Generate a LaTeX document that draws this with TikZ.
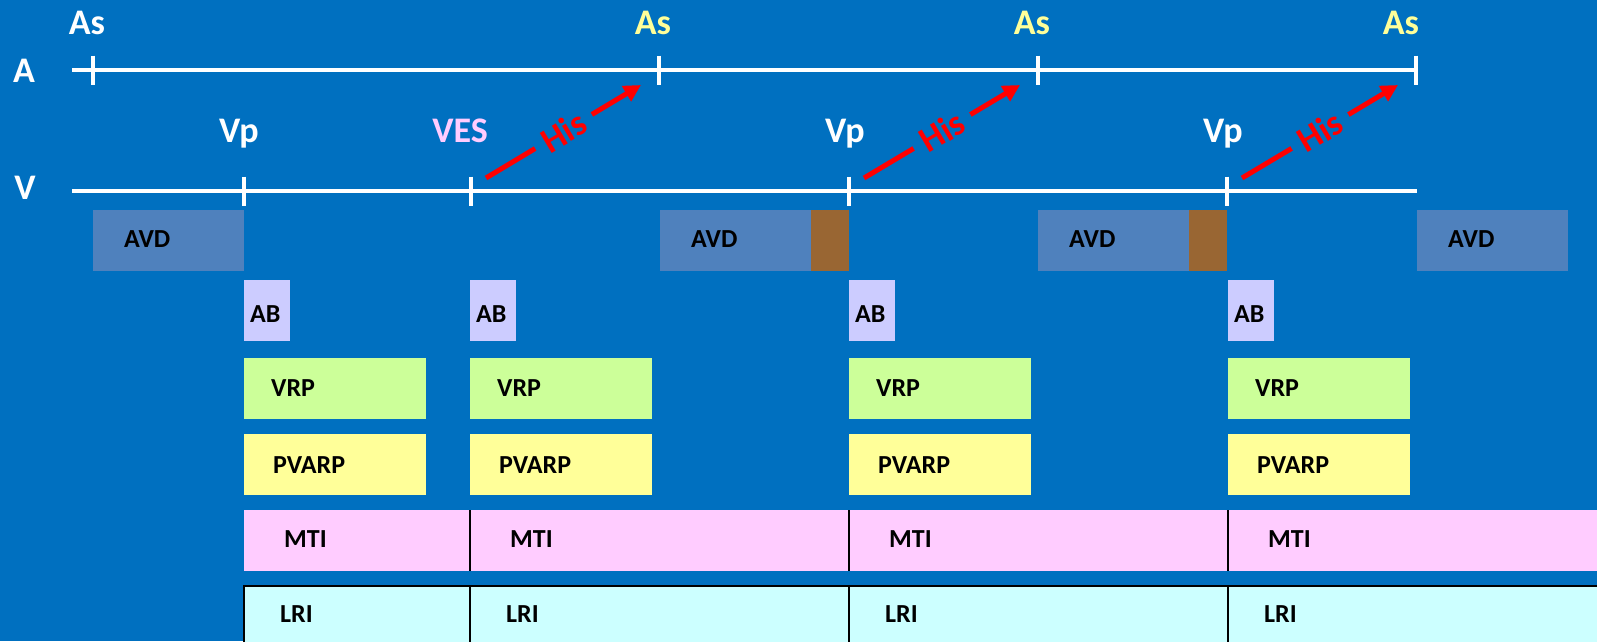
\documentclass[tikz,border=0pt]{standalone}
\usepackage{fontspec}
\setmainfont{Carlito}
\usetikzlibrary{arrows.meta}
\definecolor{bg}{HTML}{0070C0}
\definecolor{avdc}{HTML}{4F81BD}
\definecolor{brownc}{HTML}{996633}
\definecolor{abc}{HTML}{CCCCFF}
\definecolor{vrpc}{HTML}{CCFF99}
\definecolor{pvarpc}{HTML}{FFFF99}
\definecolor{mtic}{HTML}{FFCCFF}
\definecolor{lric}{HTML}{CCFFFF}
\definecolor{asyellow}{HTML}{FFFF99}
\definecolor{vespink}{HTML}{FFCCFF}
\begin{document}
\begin{tikzpicture}[x=1pt,y=-1pt,
  box/.style={anchor=north west, inner sep=0pt, outer sep=0pt, draw=none, minimum height=61pt},
  lbl/.style={font=\fontsize{26}{28}\selectfont\bfseries, text=black, inner sep=0pt, anchor=west},
  big/.style={font=\fontsize{36}{40}\selectfont\bfseries, inner sep=0pt, anchor=base},
  axisline/.style={white, line width=3.5pt},
  tickmark/.style={white, line width=3.5pt},
  his/.style={red, line width=5pt, -{Triangle[length=17pt,width=17pt]}},
  hislbl/.style={sloped, midway, fill=bg, text=red, font=\fontsize{36}{40}\selectfont\bfseries, inner xsep=10pt, inner ysep=2pt, anchor=center},
  divider/.style={black, line width=1.5pt},
  lribox/.style={box, fill=lric, draw=black, line width=2.5pt, minimum height=70pt},
]
\fill[bg] (0,0) rectangle (1597,641);
\useasboundingbox (0,0) rectangle (1597,641);
\clip (0,0) rectangle (1597,641);

% axes
\coordinate (a0) at (72,70);
\coordinate (a1) at (93,70);
\coordinate (a2) at (659,70);
\coordinate (a3) at (1038,70);
\coordinate (a4) at (1416,70);
\coordinate (v0) at (72,191);
\coordinate (v1) at (244,191);
\coordinate (v2) at (471,191);
\coordinate (v3) at (849,191);
\coordinate (v4) at (1227,191);
\coordinate (v5) at (1417,191);
\draw[axisline] (a0) -- (a4);
\draw[axisline] (v0) -- (v5);
\foreach \c in {a1,a2,a3,a4}{
  \draw[tickmark] ([yshift=14.5pt]\c) -- ([yshift=-15pt]\c);
}
\foreach \c in {v1,v2,v3,v4}{
  \draw[tickmark] ([yshift=14.5pt]\c) -- ([yshift=-15pt]\c);
}

% big labels
\node[big, white] (la) at (24,82) {A};
\node[big, white] (lv) at (25,199) {V};
\node[big, white] (as1) at (87,34) {As};
\node[big, asyellow] (as2) at (653,34) {As};
\node[big, asyellow] (as3) at (1032,34) {As};
\node[big, asyellow] (as4) at (1401,34) {As};
\node[big, white] (vp1) at (239,142) {Vp};
\node[big, vespink] (ves) at (460,142) {VES};
\node[big, white] (vp2) at (845,142) {Vp};
\node[big, white] (vp3) at (1223,142) {Vp};

% His arrows
\draw[his] ([shift={(15,-13)}]v2) -- node[hislbl] (his1) {His} ([shift={(-18,15)}]a2);
\draw[his] ([shift={(15,-13)}]v3) -- node[hislbl] (his2) {His} ([shift={(-18,15)}]a3);
\draw[his] ([shift={(15,-13)}]v4) -- node[hislbl] (his3) {His} ([shift={(-18,15)}]a4);

% AVD
\node[box, fill=avdc, minimum width=151pt] (avd1) at (93,210) {};
\node[box, fill=avdc, minimum width=151pt] (avd2) at (660,210) {};
\node[box, fill=brownc, minimum width=38pt] (br2) at (811,210) {};
\node[box, fill=avdc, minimum width=151pt] (avd3) at (1038,210) {};
\node[box, fill=brownc, minimum width=38pt] (br3) at (1189,210) {};
\node[box, fill=avdc, minimum width=151pt] (avd4) at (1417,210) {};
\foreach \n in {avd1,avd2,avd3,avd4}{
  \node[lbl] at ([xshift=31pt,yshift=1pt]\n.west) {AVD};
}

% columns
\foreach \i/\x in {1/244,2/470,3/849,4/1228}{
  \node[box, fill=abc, minimum width=46pt] (ab\i) at (\x,280) {};
  \node[lbl] at ([xshift=6pt,yshift=-4pt]ab\i.west) {AB};
  \node[box, fill=vrpc, minimum width=182pt] (vrp\i) at (\x,358) {};
  \node[lbl] at ([xshift=27pt]vrp\i.west) {VRP};
  \node[box, fill=pvarpc, minimum width=182pt] (pvarp\i) at (\x,434) {};
  \node[lbl] at ([xshift=29pt,yshift=-1pt]pvarp\i.west) {PVARP};
}

% MTI
\node[box, fill=mtic, minimum width=226pt] (mti1) at (244,510) {};
\node[box, fill=mtic, minimum width=379pt] (mti2) at (470,510) {};
\node[box, fill=mtic, minimum width=379pt] (mti3) at (849,510) {};
\node[box, fill=mtic, minimum width=369pt] (mti4) at (1228,510) {};
\foreach \n in {mti1,mti2,mti3,mti4}{
  \node[lbl] at ([xshift=40pt,yshift=1pt]\n.west) {MTI};
}
\draw[divider] (mti1.north east) -- (mti1.south east);
\draw[divider] (mti2.north east) -- (mti2.south east);
\draw[divider] (mti3.north east) -- (mti3.south east);

% LRI
\node[lribox, minimum width=226pt] (lri1) at (244,586) {};
\node[lribox, minimum width=379pt] (lri2) at (470,586) {};
\node[lribox, minimum width=379pt] (lri3) at (849,586) {};
\node[lribox, minimum width=380pt] (lri4) at (1228,586) {};
\foreach \n in {lri1,lri2,lri3,lri4}{
  \node[lbl] at ([xshift=36pt]\n.north west) [anchor=west, yshift=-28pt] {LRI};
}
\end{tikzpicture}
\end{document}
